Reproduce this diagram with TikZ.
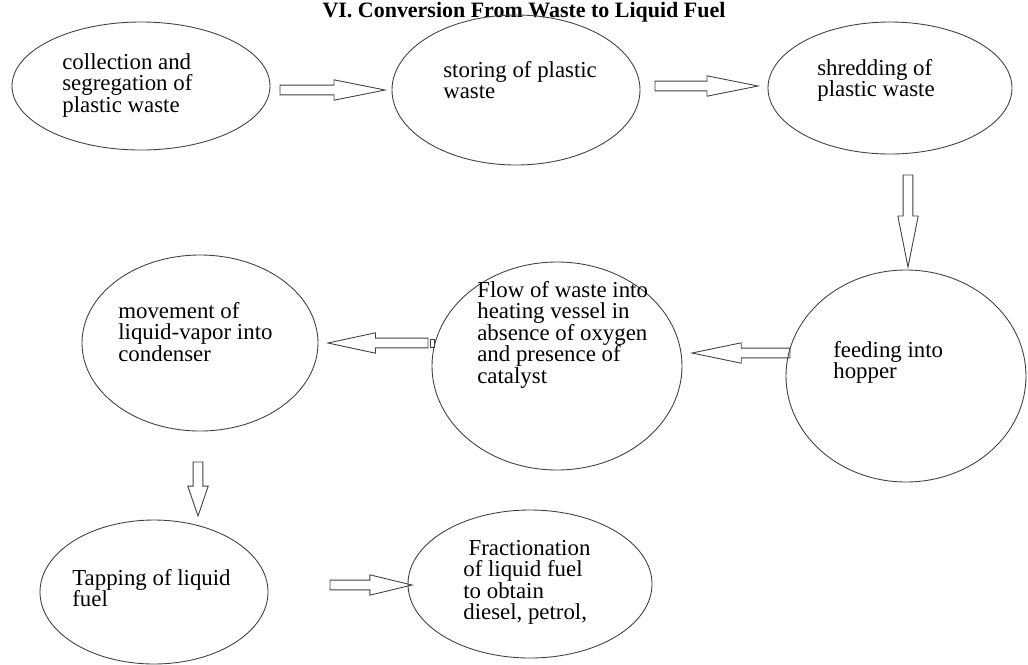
\documentclass[tikz,border=0pt]{standalone}
\usepackage{fontspec}
\setmainfont{Liberation Serif}
\usetikzlibrary{shapes.geometric,calc}
\tikzset{
  fat shaft/.initial=2.8pt,% half width of the shaft
  fat head/.initial=5.8pt,% half width of the head
  fat tip/.initial=29pt,% length of the head
  fat arrow/.style={to path={
      let \p1=(\tikztostart), \p2=(\tikztotarget),
          \n1={veclen(\x2-\x1,\y2-\y1)},
          \p3=($(\p1)!{\n1-\pgfkeysvalueof{/tikz/fat tip}}!(\p2)$) in
      ($(\p1)!\pgfkeysvalueof{/tikz/fat shaft}!90:(\p2)$)
      -- ($(\p3)!\pgfkeysvalueof{/tikz/fat shaft}!90:(\p2)$)
      -- ($(\p3)!\pgfkeysvalueof{/tikz/fat head}!90:(\p2)$)
      -- (\p2)
      -- ($(\p3)!\pgfkeysvalueof{/tikz/fat head}!-90:(\p2)$)
      -- ($(\p3)!\pgfkeysvalueof{/tikz/fat shaft}!-90:(\p2)$)
      -- ($(\p1)!\pgfkeysvalueof{/tikz/fat shaft}!-90:(\p2)$)
      -- cycle}}}

\begin{document}
\begin{tikzpicture}[x=0.02cm,y=-0.02cm,
    stage/.style={draw=black!75,line width=0.5pt,ellipse,inner sep=0pt,outer sep=0pt},
    say/.style={align=left,inner sep=0pt,anchor=north west,
      font=\fontsize{13}{12.2}\selectfont},
    flow line/.style={draw=black!75,line width=0.5pt}]
  \useasboundingbox (0,0) rectangle (1028,664);
  \node[font=\bfseries\fontsize{12.5}{14}\selectfont,anchor=base] (title) at (524,17)
    {VI. Conversion From Waste to Liquid Fuel};
  % the stages
  \foreach \name/\cx/\cy/\rx/\ry in {collect/141/86/129/64,store/516/90/124/75,
      shred/890/88/122/66,feed/906/376/120/106,heat/557/366/125/104,
      condense/200/343/118/88,tap/154/592/114/72,fraction/530/584/122/74}
    \node[stage,minimum width={2*\rx*0.02cm},minimum height={2*\ry*0.02cm}]
      (\name) at (\cx,\cy) {};
  \node[say] (collect-t) at (62,53) {collection and\\segregation of\\plastic waste};
  \node[say] (store-t) at (443,61) {storing of plastic\\waste};
  \node[say] (shred-t) at (817,59) {shredding of\\plastic waste};
  \node[say] (feed-t) at (833,341) {feeding into\\hopper};
  \node[say] (heat-t) at (477,281) {Flow of waste into\\heating vessel in\\absence of oxygen\\and presence of\\catalyst};
  \node[say] (condense-t) at (118,302) {movement of\\liquid-vapor into\\condenser};
  \node[say] (tap-t) at (72,569) {Tapping of liquid\\fuel};
  \node[say] (fraction-t) at (463,540) {\hspace*{3pt}Fractionation\\of liquid fuel\\to obtain\\diesel, petrol,};
  % the arrows between them
  \draw[flow line,fat arrow] ($(collect.east)+(10,4)$) to ($(store.west)+(-7,0)$);
  \draw[flow line,fat arrow] ($(store.east)+(15,-4)$) to ($(shred.west)+(-10,-2)$);
  \draw[flow line,fat arrow] ($(shred.south)+(18,21)$) to ($(feed.north)+(2,-3)$);
  \draw[flow line,fat arrow,fat tip=28pt] ($(feed.west)+(4,-23)$) to ($(heat.east)+(10,-13)$);
  \draw[flow line,fat arrow,fat tip=27pt] ($(heat.west)+(-4,-23)$) to ($(condense.east)+(10,0)$);
  \draw[flow line,fat arrow,fat tip=17pt] ($(condense.south)+(-2,31)$) to ($(tap.north)+(44,-4)$);
  \draw[flow line,fat arrow,fat tip=24pt] ($(tap.east)+(62,-7)$) to ($(fraction.west)+(4,1)$);
  \draw[flow line] ($(heat.west)+(-2,-27)$) rectangle ++(4,8);
\end{tikzpicture}
\end{document}
